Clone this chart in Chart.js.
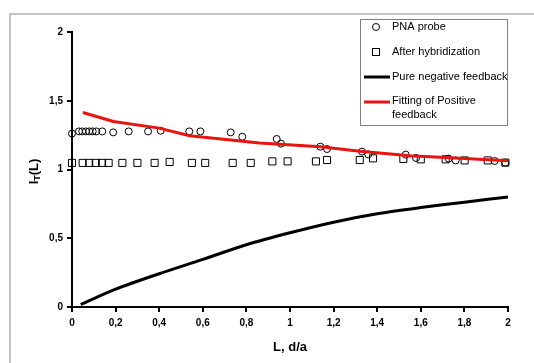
<!DOCTYPE html>
<html>
<head>
<meta charset="utf-8">
<script src="https://cdn.jsdelivr.net/npm/chart.js@4.4.1/dist/chart.umd.min.js"></script>
<style>
  html, body { margin: 0; padding: 0; background: #fff; }
  #wrap { width: 534px; height: 363px; }
</style>
</head>
<body>
<div id="wrap"><canvas id="c" width="534" height="363"></canvas></div>
<script>
// Measured response I_T(L) versus normalised distance L = d/a
const pnaL = [0, 0.032, 0.047, 0.064, 0.079, 0.095, 0.111, 0.139, 0.189, 0.26, 0.349, 0.407, 0.538, 0.589, 0.728, 0.781,
              0.939, 0.959, 1.139, 1.17, 1.33, 1.359, 1.531, 1.578, 1.728, 1.76, 1.939, 1.988];
const pnaI = [1.262, 1.277, 1.277, 1.277, 1.277, 1.277, 1.277, 1.277, 1.27, 1.277, 1.277, 1.282, 1.277, 1.277, 1.27, 1.238,
              1.222, 1.188, 1.166, 1.149, 1.13, 1.11, 1.108, 1.084, 1.079, 1.066, 1.062, 1.05];

const hybL = [0, 0.049, 0.079, 0.109, 0.138, 0.168, 0.231, 0.3, 0.379, 0.448, 0.55, 0.611, 0.737, 0.82,
              0.919, 0.989, 1.119, 1.17, 1.32, 1.381, 1.52, 1.6, 1.714, 1.801, 1.907, 1.988];
const hybI = [1.048, 1.048, 1.048, 1.048, 1.048, 1.048, 1.048, 1.048, 1.048, 1.055, 1.048, 1.048, 1.048, 1.048,
              1.059, 1.059, 1.059, 1.069, 1.069, 1.081, 1.077, 1.074, 1.074, 1.066, 1.066, 1.05];

// Theoretical curves
const negL = [0.04, 0.2, 0.4, 0.6, 0.8, 1.0, 1.2, 1.4, 1.6, 1.8, 2.0];
const negI = [0.018, 0.13, 0.242, 0.346, 0.453, 0.54, 0.617, 0.678, 0.723, 0.762, 0.8];

const posL = [0.05, 0.19, 0.4, 0.54, 0.86, 1.14, 1.32, 1.55, 1.78, 2.0];
const posI = [1.415, 1.349, 1.301, 1.246, 1.193, 1.165, 1.132, 1.1, 1.081, 1.064];

const xTicks = [0, 0.2, 0.4, 0.6, 0.8, 1, 1.2, 1.4, 1.6, 1.8, 2];
const yTicks = [0, 0.5, 1, 1.5, 2];

const legendItems = ['PNA probe', 'After hybridization', 'Pure negative feedback', 'Fitting of Positive\nfeedback'];

const pts = (xs, ys) => xs.map((x, i) => ({ x: x, y: ys[i] }));
const fmt = v => String(Number(v.toFixed(1))).replace('.', ',');
const FONT = '"Liberation Sans", Arial, sans-serif';

// Light grey page frame
const framePlugin = {
  id: 'frame',
  beforeDraw(chart) {
    const ctx = chart.ctx;
    ctx.save();
    ctx.strokeStyle = '#c4c4c4';
    ctx.lineWidth = 2;
    ctx.beginPath();
    ctx.moveTo(10, 363);
    ctx.lineTo(10, 14);
    ctx.lineTo(534, 14);
    ctx.stroke();
    ctx.restore();
  }
};

// Axis titles (with subscript on the y title) and boxed legend
const annotPlugin = {
  id: 'annot',
  afterDraw(chart) {
    const ctx = chart.ctx;
    const area = chart.chartArea;
    ctx.save();
    ctx.fillStyle = '#000';

    // x title
    ctx.font = 'bold 13px ' + FONT;
    ctx.textAlign = 'center';
    ctx.textBaseline = 'middle';
    ctx.fillText('L, d/a', (area.left + area.right) / 2, 347);

    // y title: I_T(L), rotated
    ctx.save();
    ctx.translate(34, (area.top + area.bottom) / 2 + 2);
    ctx.rotate(-Math.PI / 2);
    ctx.textAlign = 'left';
    ctx.textBaseline = 'middle';
    const big = 'bold 13px ' + FONT, small = 'bold 9px ' + FONT;
    ctx.font = big; const wI = ctx.measureText('I').width;
    ctx.font = small; const wT = ctx.measureText('T').width;
    ctx.font = big; const wL = ctx.measureText('(L)').width;
    let x0 = -(wI + wT + wL) / 2;
    ctx.font = big; ctx.fillText('I', x0, 0);
    ctx.font = small; ctx.fillText('T', x0 + wI, 4);
    ctx.font = big; ctx.fillText('(L)', x0 + wI + wT, 0);
    ctx.restore();

    // legend box
    const bx = 360.5, by = 19.5, bw = 147, bh = 106;
    ctx.fillStyle = '#fff';
    ctx.fillRect(bx, by, bw, bh);
    ctx.strokeStyle = '#808080';
    ctx.lineWidth = 1;
    ctx.strokeRect(bx, by, bw, bh);

    ctx.font = '11px ' + FONT;
    ctx.textAlign = 'left';
    ctx.textBaseline = 'middle';
    ctx.fillStyle = '#000';
    const rows = [27, 52, 77, 101];
    const tx = 392;
    // markers
    ctx.strokeStyle = '#000';
    ctx.lineWidth = 1;
    ctx.beginPath(); ctx.arc(376, rows[0], 3.5, 0, Math.PI * 2); ctx.stroke();
    ctx.strokeRect(372.5, rows[1] - 3.5, 7, 7);
    ctx.lineWidth = 3;
    ctx.beginPath(); ctx.moveTo(364, 77); ctx.lineTo(390, 77); ctx.stroke();
    ctx.strokeStyle = '#e8140f';
    ctx.beginPath(); ctx.moveTo(364, 102); ctx.lineTo(390, 102); ctx.stroke();
    // labels
    ctx.fillText(legendItems[0], tx, rows[0]);
    ctx.fillText(legendItems[1], tx, rows[1]);
    ctx.fillText(legendItems[2], tx, rows[2]);
    const parts = legendItems[3].split('\n');
    ctx.fillText(parts[0], tx, rows[3]);
    ctx.fillText(parts[1], tx, rows[3] + 14);
    ctx.restore();
  }
};

new Chart(document.getElementById('c'), {
  type: 'scatter',
  data: {
    datasets: [
      {
        label: legendItems[2],
        data: pts(negL, negI),
        showLine: true,
        borderColor: '#000',
        borderWidth: 3,
        pointRadius: 0,
        tension: 0.3,
        fill: false
      },
      {
        label: legendItems[3],
        data: pts(posL, posI),
        showLine: true,
        borderColor: '#e8140f',
        borderWidth: 3,
        pointRadius: 0,
        tension: 0,
        fill: false
      },
      {
        label: legendItems[0],
        data: pts(pnaL, pnaI),
        clip: false,
        pointStyle: 'circle',
        pointRadius: 3.5,
        borderColor: '#000',
        borderWidth: 1,
        backgroundColor: 'rgba(0,0,0,0)'
      },
      {
        label: legendItems[1],
        data: pts(hybL, hybI),
        clip: false,
        pointStyle: 'rect',
        pointRadius: 5,
        borderColor: '#000',
        borderWidth: 1,
        backgroundColor: 'rgba(0,0,0,0)'
      }
    ]
  },
  options: {
    responsive: false,
    animation: false,
    devicePixelRatio: 1,
    layout: { padding: { left: 0, top: 32, right: 26, bottom: 0 } },
    plugins: { legend: { display: false }, tooltip: { enabled: false } },
    elements: { point: { hoverRadius: 0 } },
    scales: {
      x: {
        type: 'linear',
        min: 0, max: 2,
        afterFit(scale) { scale.height = 56; },
        afterBuildTicks(scale) { scale.ticks = xTicks.map(v => ({ value: v })); },
        grid: { display: true, drawOnChartArea: false, drawTicks: true, tickLength: 5, color: '#000', lineWidth: 2 },
        border: { display: true, color: '#000', width: 2 },
        ticks: {
          padding: 5,
          maxRotation: 0,
          autoSkip: false,
          color: '#000',
          font: { family: FONT, size: 10, weight: 'bold' },
          callback: v => fmt(v)
        }
      },
      y: {
        type: 'linear',
        min: 0, max: 2,
        afterFit(scale) { scale.width = 72; },
        afterBuildTicks(scale) { scale.ticks = yTicks.map(v => ({ value: v })); },
        grid: { display: true, drawOnChartArea: false, drawTicks: true, tickLength: 5, color: '#000', lineWidth: 2 },
        border: { display: true, color: '#000', width: 2 },
        ticks: {
          padding: 4,
          color: '#000',
          font: { family: FONT, size: 10, weight: 'bold' },
          callback: v => fmt(v)
        }
      }
    }
  },
  plugins: [framePlugin, annotPlugin]
});
</script>
</body>
</html>
